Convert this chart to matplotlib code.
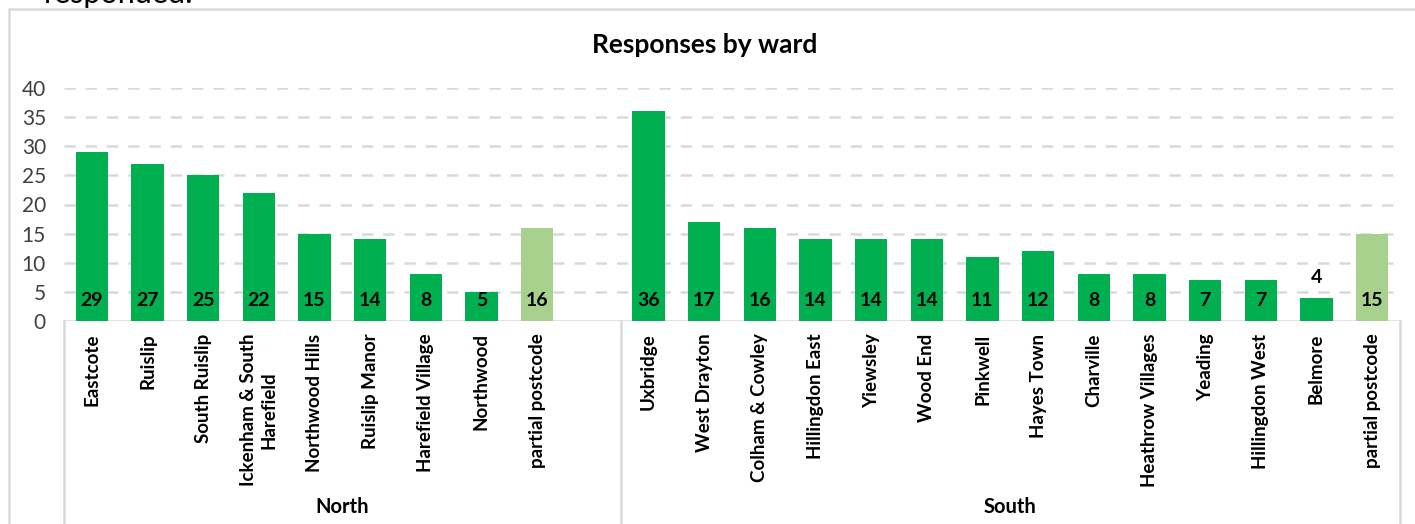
import numpy as np
import matplotlib
matplotlib.use('Agg')
import matplotlib.pyplot as plt
from matplotlib.patches import Rectangle

plt.rcParams['font.family'] = ['Lato', 'DejaVu Sans']

north_wards = ['Eastcote', 'Ruislip', 'South Ruislip', 'Ickenham & South\nHarefield',
               'Northwood Hills', 'Ruislip Manor', 'Harefield Village', 'Northwood',
               'partial postcode', '']
north_vals = [29, 27, 25, 22, 15, 14, 8, 5, 16, None]

south_wards = ['Uxbridge', 'West Drayton', 'Colham & Cowley', 'Hillingdon East',
               'Yiewsley', 'Wood End', 'Pinkwell', 'Hayes Town', 'Charville',
               'Heathrow Villages', 'Yeading', 'Hillingdon West', 'Belmore',
               'partial postcode']
south_vals = [36, 17, 16, 14, 14, 14, 11, 12, 8, 8, 7, 7, 4, 15]

groups = ['North', 'South']

labels = north_wards + south_wards
vals = north_vals + south_vals

green = '#00B050'
light = '#A9D18E'
grid_c = '#D9D9D9'

W, H = 1415, 524
fig = plt.figure(figsize=(W / 100, H / 100), dpi=100)

# outer chart frame (runs off the right and bottom of the picture)
fig.patches.append(Rectangle((9 / W, -0.1), 1.2, 1.1 - 9 / H, transform=fig.transFigure,
                             fill=False, edgecolor=grid_c, linewidth=1.8))
# tail of the text above the chart, cut by the top edge as in the source
fig.text(44 / W, 1 - 3 / H, 'responded.', fontsize=22, va='baseline', ha='left', color='black')

ax = fig.add_axes([64 / W, (H - 321) / H, (1400 - 64) / W, (321 - 88) / H])
n = len(labels)
ax.set_xlim(-0.5, n - 0.5)
ax.set_ylim(0, 40)

for yv in range(5, 45, 5):
    ax.axhline(yv, xmin=0, xmax=(1395 - 64) / (1400 - 64), color=grid_c, lw=1.8,
               dashes=(4.5, 4), zorder=0)

for i, (lab, v) in enumerate(zip(labels, vals)):
    if v is None:
        continue
    c = light if lab == 'partial postcode' else green
    ax.bar(i, v, width=0.58, color=c, zorder=2)
    if v < 5:
        ax.annotate(str(v), (i, v), xytext=(0, 14.5), textcoords='offset points',
                    ha='center', va='center', fontsize=14, fontweight='bold')
    else:
        ax.annotate(str(v), (i, 0), xytext=(0, 15), textcoords='offset points',
                    ha='center', va='center', fontsize=14, fontweight='bold', zorder=3)

ax.set_yticks(range(0, 45, 5))
ax.tick_params(axis='y', length=0, pad=13, labelsize=15, labelcolor='#404040')
ax.set_xticks(range(n))
ax.set_xticklabels(labels, rotation=90, fontweight='bold', fontsize=13.5,
                   va='top', ha='center', multialignment='center', linespacing=1.25)
ax.tick_params(axis='x', length=0, pad=9)
for s in ax.spines.values():
    s.set_visible(False)
ax.axhline(0, color=grid_c, lw=1.8, zorder=1)

# group dividers and group labels
for xe in [-0.5, len(north_wards) - 0.5, n - 0.5]:
    ax.plot([xe, xe], [0, -40], color=grid_c, lw=1.8, clip_on=False)
ax.text((len(north_wards) - 1) / 2, -32, groups[0], ha='center', va='center',
        fontsize=14.5, fontweight='bold')
ax.text(len(north_wards) + (len(south_wards) - 1) / 2, -32, groups[1], ha='center',
        va='center', fontsize=14.5, fontweight='bold')

fig.text(705 / W, 1 - 45 / H, 'Responses by ward', ha='center', va='center',
         fontsize=19, fontweight='bold')

fig.savefig('out.png', dpi=100)
